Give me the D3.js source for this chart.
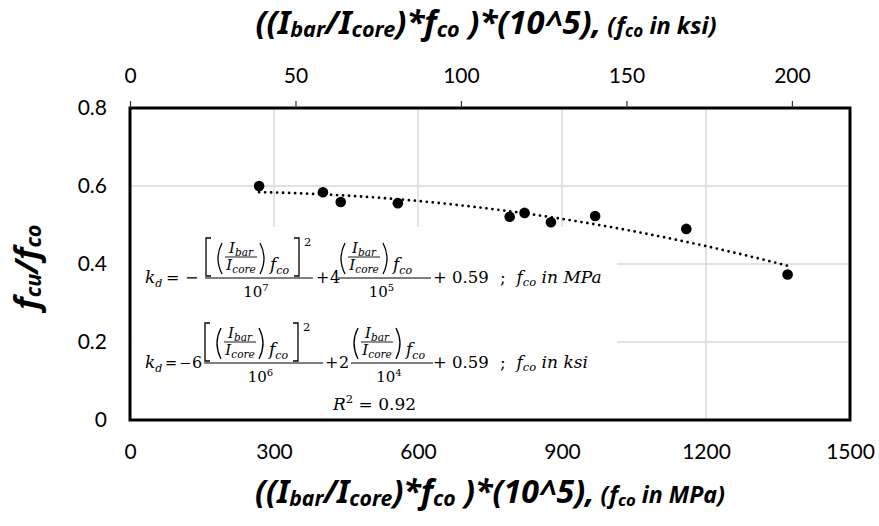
<!DOCTYPE html>
<html><head><meta charset="utf-8">
<script src="https://cdn.jsdelivr.net/npm/d3@7"></script>
<style>body{margin:0;background:#fff} svg{display:block}</style>
</head><body>
<svg id="c" width="879" height="526"></svg>
<script>
// ---- data ----
const xValuesMPa = [269, 402, 439, 558, 791, 822, 877, 969, 1159, 1370];
const yValues    = [0.600, 0.584, 0.559, 0.556, 0.521, 0.531, 0.507, 0.523, 0.490, 0.373];
const bottomTicks = [0, 300, 600, 900, 1200, 1500];
const topTicks = [0, 50, 100, 150, 200];
const leftTicks = [0, 0.2, 0.4, 0.6, 0.8];
const mpaPerKsi = 6.895;

const svg = d3.select('#c');
const P = {l:130, r:850, t:108, b:420};
const x = d3.scaleLinear().domain([0,1500]).range([P.l, P.r]);
const xTop = d3.scaleLinear().domain([0, 1500/mpaPerKsi]).range([P.l, P.r]);
const y = d3.scaleLinear().domain([0,0.8]).range([P.b, P.t]);

// gridlines
const grid = svg.append('g').attr('stroke','#d9d9d9').attr('stroke-width',1.5);
grid.selectAll('line.v').data(bottomTicks.slice(1,-1)).join('line')
  .attr('x1',d=>x(d)).attr('x2',d=>x(d)).attr('y1',P.t).attr('y2',P.b);
grid.selectAll('line.h').data(leftTicks.slice(1,-1)).join('line')
  .attr('x1',P.l).attr('x2',P.r).attr('y1',d=>y(d)).attr('y2',d=>y(d));

// white equation box
svg.append('rect').attr('x',132).attr('y',227).attr('width',485).attr('height',192).attr('fill','#fff');

// quadratic least-squares trendline from data
function polyfit2(xs, ys){
  const S=[0,0,0,0,0], T=[0,0,0];
  xs.forEach((xv,i)=>{const u=xv/1000; for(let k=0;k<5;k++) S[k]+=u**k; for(let k=0;k<3;k++) T[k]+=ys[i]*u**k;});
  const A=[[S[0],S[1],S[2],T[0]],[S[1],S[2],S[3],T[1]],[S[2],S[3],S[4],T[2]]];
  for(let i=0;i<3;i++){ for(let j=i+1;j<3;j++){ const f=A[j][i]/A[i][i]; for(let k=i;k<4;k++) A[j][k]-=f*A[i][k]; } }
  const c=[0,0,0];
  for(let i=2;i>=0;i--){ let s=A[i][3]; for(let k=i+1;k<3;k++) s-=A[i][k]*c[k]; c[i]=s/A[i][i]; }
  return xv=>{const u=xv/1000; return c[0]+c[1]*u+c[2]*u*u;};
}
const fit = polyfit2(xValuesMPa, yValues);
const xs = d3.range(d3.min(xValuesMPa), d3.max(xValuesMPa)+0.1, 5);
svg.append('path').datum(xs)
  .attr('d', d3.line().x(d=>x(d)).y(d=>y(fit(d))))
  .attr('fill','none').attr('stroke','#000').attr('stroke-width',2.8)
  .attr('stroke-linecap','round').attr('stroke-dasharray','0,6');

// points
svg.append('g').selectAll('circle').data(xValuesMPa).join('circle')
  .attr('cx',d=>x(d)).attr('cy',(d,i)=>y(yValues[i])).attr('r',5.3).attr('fill','#000');

// border
svg.append('rect').attr('x',P.l).attr('y',P.t).attr('width',P.r-P.l).attr('height',P.b-P.t)
  .attr('fill','none').attr('stroke','#000').attr('stroke-width',3);

// axes
const tickFont = 'Lato, "Open Sans", sans-serif';
const axB = svg.append('g').attr('transform',`translate(0,${P.b})`)
  .call(d3.axisBottom(x).tickValues(bottomTicks).tickSize(0).tickPadding(24).tickFormat(d3.format('d')));
const axT = svg.append('g').attr('transform',`translate(0,${P.t})`)
  .call(d3.axisTop(xTop).tickValues(topTicks).tickSize(7).tickPadding(18).tickFormat(d3.format('d')));
const axL = svg.append('g').attr('transform',`translate(${P.l},0)`)
  .call(d3.axisLeft(y).tickValues(leftTicks).tickSize(0).tickPadding(23).tickFormat(d=>d===0?'0':d3.format('.1f')(d)));
[axB,axT,axL].forEach(a=>{
  a.select('.domain').remove();
  a.selectAll('text').attr('font-family',tickFont).attr('font-size',21).attr('fill','#000');
});
axT.selectAll('line').attr('stroke','#333').attr('stroke-width',1.2);

// rich titles: each piece is its own text element, laid out left to right
function richTitle(parts, targetW){
  const g = svg.append('g');
  const base0 = 20;
  const els = parts.map(p=>g.append('text').text(p[0])
    .attr('font-family','"Noto Sans", "Liberation Sans", sans-serif').attr('font-weight','bold')
    .attr('font-style','italic').attr('fill','#000').style('white-space','pre')
    .attr('font-size',base0*p[1]));
  const w0 = d3.sum(els, e=>e.node().getComputedTextLength());
  const base = base0*targetW/w0;
  els.forEach((e,i)=>e.attr('font-size',base*parts[i][1]));
  const ws = els.map(e=>e.node().getComputedTextLength());
  let xx = -d3.sum(ws)/2;
  els.forEach((e,i)=>{ e.attr('x',xx).attr('y', parts[i][2] ? Math.round(0.1*base) : 0); xx += ws[i]; });
  return g;
}
const S=0.66;
richTitle([['((I',1],['bar',S,1],['/I',1],['core',S,1],[')*f',1],['co',S,1],[' )*(10^5),',1],[' (f',0.72],['co',0.52,1],[' in ksi)',0.72]], 461)
  .attr('transform','translate(486,34)');
richTitle([['((I',1],['bar',S,1],['/I',1],['core',S,1],[')*f',1],['co',S,1],[' )*(10^5),',1],[' (f',0.72],['co',0.52,1],[' in MPa)',0.72]], 470)
  .attr('transform','translate(490,503)');
richTitle([['f',1],['cu',S,1],['/f',1],['co',S,1]], 85)
  .attr('transform','translate(38,267) rotate(-90)');

// ---- equation (annotation) ----
const eq = svg.append('g').attr('font-family','"DejaVu Serif", serif').attr('fill','#000');
function T(txt, xx, yy, size, it, anchor){
  return eq.append('text').attr('x',xx).attr('y',yy).attr('font-size',size)
    .attr('font-style',it?'italic':'normal').attr('text-anchor',anchor||'start').text(txt);
}
function V(base, sb, xx, yy, size, sbSize, anchor, sup){
  const t = eq.append('text').attr('x',xx).attr('y',yy).attr('text-anchor',anchor||'start');
  t.append('tspan').attr('font-size',size).attr('font-style',/^[0-9]/.test(base)?'normal':'italic').text(base);
  t.append('tspan').attr('font-size',sbSize).attr('font-style',/^[0-9]/.test(sb)?'normal':'italic')
    .attr('dy',sup?-size*0.4:size*0.22).text(sb);
  return t;
}
function delim(kind, x0, y1, y2, w){
  let d;
  if(kind==='[') d=`M${x0+w},${y1}H${x0}V${y2}H${x0+w}`;
  if(kind===']') d=`M${x0},${y1}H${x0+w}V${y2}H${x0}`;
  if(kind==='(') d=`M${x0+w},${y1}Q${x0-w*0.6},${(y1+y2)/2} ${x0+w},${y2}`;
  if(kind===')') d=`M${x0},${y1}Q${x0+w*1.6},${(y1+y2)/2} ${x0},${y2}`;
  eq.append('path').attr('d',d).attr('fill','none').attr('stroke','#000').attr('stroke-width',1.3);
}
function hbar(x1,x2,yy,sw){ eq.append('line').attr('x1',x1).attr('x2',x2).attr('y1',yy).attr('y2',yy).attr('stroke','#000').attr('stroke-width',sw||1); }
function innerFrac(cx, yb){
  V('I','bar',cx,yb-4,15,10.5,'middle');
  hbar(cx-16,cx+16,yb,0.9);
  V('I','core',cx,yb+12.5,15,10.5,'middle');
}
function ratioGroup(x0, yb, withBrackets){
  let xx = x0;
  if(withBrackets){ delim('[', xx, yb-19, yb+19, 5); xx += 11; }
  delim('(', xx, yb-14, yb+17, 5); xx += 5;
  innerFrac(xx+19, yb); xx += 38;
  delim(')', xx, yb-14, yb+17, 5); xx += 10;
  V('f','co',xx,yb+13,17,11); xx += 23;
  if(withBrackets){ delim(']', xx+1, yb-19, yb+19, 5); T('2', xx+11, yb-11, 11.5, false); }
}
function eqLine(B, v){
  const ax = B-5;
  V('k','d',145,B,17,11);
  T('=',v.eqX,B,v.opSize); T('−',v.minusX,B,v.opSize);
  if(v.coef1) T(v.coef1,v.minusX+13,B,16);
  hbar(v.f1[0],v.f1[1],ax,1.1);
  ratioGroup(v.f1[0]+1, ax-21, true);
  V('10',v.e1,(v.f1[0]+v.f1[1])/2-3,B+14,15,10,'middle',true);
  T('+',v.plus2,B,16); T(v.coef2,v.plus2+14,B,16);
  hbar(v.f2[0],v.f2[1],ax,1.1);
  ratioGroup(v.f2[0]+2, ax-21, false);
  V('10',v.e2,(v.f2[0]+v.f2[1])/2-3,B+14,15,10,'middle',true);
  T('+ 0.59',433,B,16.5).style('white-space','pre');
  const t = eq.append('text').attr('x',500).attr('y',B).attr('font-size',17).style('white-space','pre');
  t.append('tspan').text(';  ');
  t.append('tspan').attr('font-style','italic').text('f');
  t.append('tspan').attr('font-style','italic').attr('font-size',11.5).attr('dy',3).text('co');
  t.append('tspan').attr('font-style','italic').attr('dy',-3).text(' in '+v.unit);
}
eqLine(283, {eqX:166, minusX:185, opSize:16, coef1:'', f1:[205,313], e1:'7', plus2:316, coef2:'4', f2:[338,431], e2:'5', unit:'MPa'});
eqLine(368, {eqX:165, minusX:179, opSize:14.5, coef1:'6', f1:[204,323], e1:'6', plus2:325, coef2:'2', f2:[351,433], e2:'4', unit:'ksi'});
const r2 = eq.append('text').attr('x',333).attr('y',410).attr('font-size',17).style('white-space','pre');
r2.append('tspan').attr('font-style','italic').text('R');
r2.append('tspan').attr('font-size',11.5).attr('dy',-7).text('2');
r2.append('tspan').attr('dy',7).text(' = 0.92');
</script>
</body></html>
